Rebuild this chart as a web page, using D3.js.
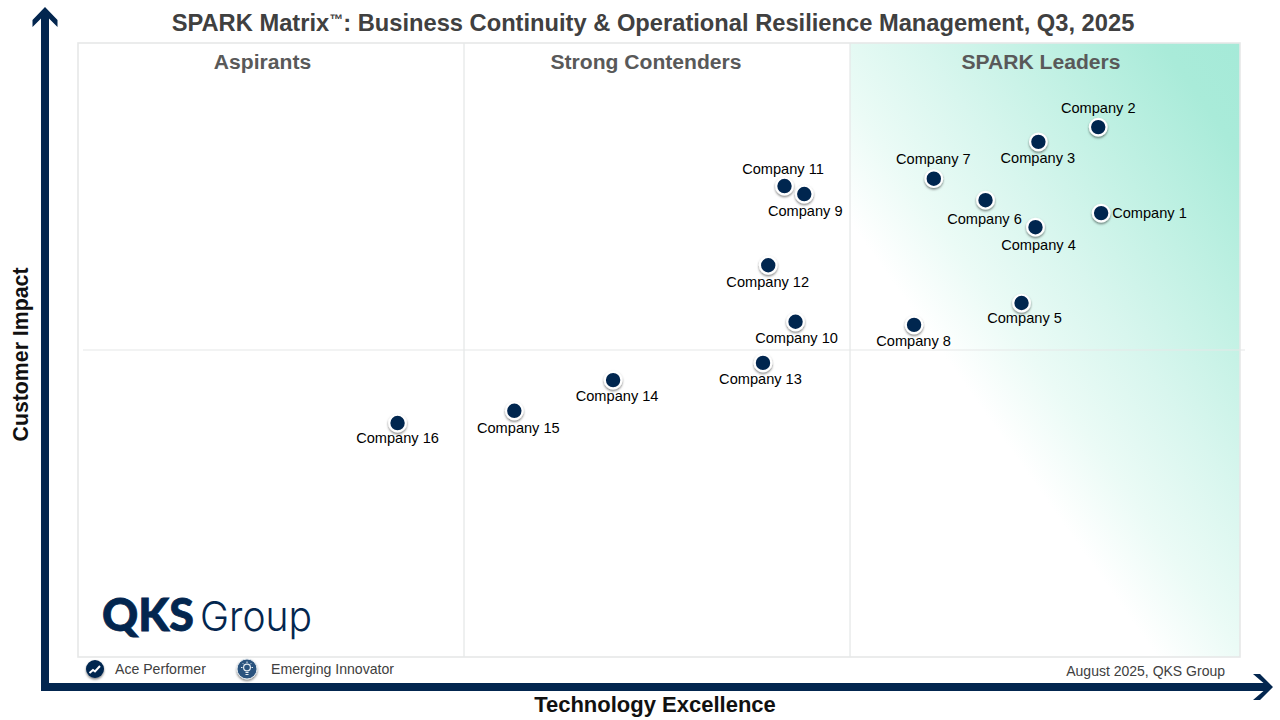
<!DOCTYPE html>
<html>
<head>
<meta charset="UTF-8">
<title>SPARK Matrix</title>
<script src="https://d3js.org/d3.v7.min.js"></script>
<style>
  html, body { margin: 0; padding: 0; background: #fff; }
  svg { display: block; font-family: "Liberation Sans", Arial, sans-serif; }
</style>
</head>
<body>
<div id="chart"></div>
<script>
// data (0-100 on both axes)
var companies = ["Company 1","Company 2","Company 3","Company 4","Company 5","Company 6","Company 7","Company 8",
                 "Company 9","Company 10","Company 11","Company 12","Company 13","Company 14","Company 15","Company 16"];
var techExcellence = [88.05,87.8,82.65,82.4,81.2,78.1,73.65,71.95,62.5,61.75,60.8,59.4,58.95,46.05,37.55,27.5];
var customerImpact = [72.3,86.3,83.9,70.0,57.65,74.4,77.9,54.1,75.4,54.6,76.7,63.8,47.9,45.1,40.1,38.1];
var quadrants = ["Aspirants","Strong Contenders","SPARK Leaders"];
var quadrantEdges = [0,33.22,66.44,100];
var legendItems = ["Ace Performer","Emerging Innovator"];

var width = 1280, height = 720;
var plot = {left: 78, right: 1240, top: 43, bottom: 657};
var navy = "#03264f", frame = "#e6e8e8";

var x = d3.scaleLinear().domain([0,100]).range([plot.left, plot.right]);
var y = d3.scaleLinear().domain([0,100]).range([plot.bottom, plot.top]);

// label offset from the point: dx, dy of baseline, anchor
var labelPos = [[11,5,"start"],[0,-14,"middle"],[-0.5,21,"middle"],[3,23,"middle"],[3,20,"middle"],[-1,24,"middle"],[-0.5,-15,"middle"],[-0.5,21,"middle"],
                [1,22,"middle"],[1,21,"middle"],[-1.5,-12,"middle"],[-0.5,22,"middle"],[-2.5,21,"middle"],[4,21,"middle"],[4,22,"middle"],[0,20,"middle"]];
var quadLabelShift = [-8.5,-11,-4];

var svg = d3.select("#chart").append("svg").attr("width",width).attr("height",height);
var defs = svg.append("defs");

// leaders background: straight diagonal fade, white at lower left
var grad = defs.append("linearGradient").attr("id","leaders").attr("gradientUnits","userSpaceOnUse")
  .attr("x1",940).attr("y1",350).attr("x2",1284).attr("y2",107);
[[0,"#ffffff"],[0.17,"#ebfbf6"],[0.38,"#d8f6ee"],[0.6,"#c2f1e4"],[0.85,"#a9ebd9"],[1,"#a5ead8"]].forEach(function(s){
  grad.append("stop").attr("offset",s[0]).attr("stop-color",s[1]);
});

var shadow = defs.append("filter").attr("id","dotShadow").attr("x","-50%").attr("y","-50%").attr("width","200%").attr("height","200%");
shadow.append("feDropShadow").attr("dx",0).attr("dy",1.5).attr("stdDeviation",1.3).attr("flood-color","#000").attr("flood-opacity",0.5);

// plot frame and quadrants
svg.append("rect").attr("x",x(quadrantEdges[2])).attr("y",plot.top)
  .attr("width",x(quadrantEdges[3])-x(quadrantEdges[2])).attr("height",plot.bottom-plot.top).attr("fill","url(#leaders)");
svg.append("rect").attr("x",plot.left).attr("y",plot.top).attr("width",plot.right-plot.left).attr("height",plot.bottom-plot.top)
  .attr("fill","none").attr("stroke",frame).attr("stroke-width",1.6);
svg.selectAll("line.div").data(quadrantEdges.slice(1,3)).enter().append("line").attr("class","div")
  .attr("x1",function(d){return x(d)}).attr("x2",function(d){return x(d)})
  .attr("y1",plot.top).attr("y2",plot.bottom).attr("stroke",frame).attr("stroke-width",1.3);
svg.append("line").attr("x1",83).attr("x2",1245).attr("y1",y(50)).attr("y2",y(50)).attr("stroke",frame).attr("stroke-width",1.2);

// title
var title = svg.append("text").attr("x",653).attr("y",31).attr("text-anchor","middle")
  .attr("font-size",23.7).attr("font-weight","bold").attr("fill","#404040");
title.append("tspan").text("SPARK Matrix");
title.append("tspan").text("™").attr("font-size",14).attr("dy",-7);
title.append("tspan").text(": Business Continuity & Operational Resilience Management, Q3, 2025").attr("dy",7);

svg.selectAll("text.quad").data(quadrants).enter().append("text").attr("class","quad")
  .attr("x",function(d,i){return (x(quadrantEdges[i])+x(quadrantEdges[i+1]))/2+quadLabelShift[i]}).attr("y",69).attr("text-anchor","middle")
  .attr("font-size",21.1).attr("font-weight","bold").attr("fill","#595959").text(function(d){return d});

// axes arrows
svg.append("path").attr("fill",navy)
  .attr("d","M45,7L57.5,20V27L49,18.5V683H1263.5L1253,674H1260L1273,687L1260,700H1253L1263.5,691H41V18.5L32.5,27V20Z");

svg.append("text").attr("x",655).attr("y",712).attr("text-anchor","middle").attr("font-size",22).attr("font-weight","bold").attr("fill","#111").text("Technology Excellence");
svg.append("text").attr("transform","translate(28,354.5) rotate(-90)").attr("text-anchor","middle").attr("font-size",21.3).attr("font-weight","bold").attr("fill","#111").text("Customer Impact");

// points
var pts = svg.append("g").selectAll("g").data(companies).enter().append("g");
pts.append("circle").attr("cx",function(d,i){return x(techExcellence[i])}).attr("cy",function(d,i){return y(customerImpact[i])})
  .attr("r",8.3).attr("fill",navy).attr("stroke","#fff").attr("stroke-width",2.2).attr("filter","url(#dotShadow)");
pts.append("text").attr("x",function(d,i){return x(techExcellence[i])+labelPos[i][0]}).attr("y",function(d,i){return y(customerImpact[i])+labelPos[i][1]})
  .attr("text-anchor",function(d,i){return labelPos[i][2]}).attr("font-size",14.6).attr("fill","#000").text(function(d){return d});

// logo
svg.append("text").attr("x",102).attr("y",631).attr("font-size",45).style("font-family","Lato").style("font-weight",900)
  .attr("fill",navy).attr("stroke",navy).attr("stroke-width",0.8).attr("textLength",92).attr("lengthAdjust","spacingAndGlyphs").text("QKS");
svg.append("text").attr("x",200).attr("y",631).attr("font-size",41).style("font-family","Inter").style("font-weight",300).attr("fill",navy).attr("textLength",112).attr("lengthAdjust","spacingAndGlyphs").text("Group");

// legend
var legendX = [95,247], legendTextX = [115,271];
svg.append("circle").attr("cx",legendX[0]).attr("cy",669).attr("r",9).attr("fill",navy).attr("filter","url(#dotShadow)");
svg.append("path").attr("d","M89.5,673l3.5,-3l2,1.5l5,-5.5").attr("fill","none").attr("stroke","#fff").attr("stroke-width",2);
svg.append("circle").attr("cx",legendX[1]).attr("cy",669).attr("r",10).attr("fill","#2a527e").attr("stroke","#dfe6ec").attr("stroke-width",1).attr("filter","url(#dotShadow)");
svg.append("circle").attr("cx",legendX[1]).attr("cy",667.5).attr("r",3.4).attr("fill","none").attr("stroke","#e6edf3").attr("stroke-width",1.2);
svg.append("path").attr("d","M245.5,672.5h3M245.5,674.5h3M247,661.5v1.5M241,667.5h1.5M251.5,667.5h1.5M242.8,663.3l1,1M251.2,663.3l-1,1")
  .attr("stroke","#e6edf3").attr("stroke-width",1).attr("fill","none");
svg.selectAll("text.leg").data(legendItems).enter().append("text").attr("class","leg")
  .attr("x",function(d,i){return legendTextX[i]}).attr("y",674).attr("font-size",14.1).attr("fill","#404040").text(function(d){return d});

svg.append("text").attr("x",1225).attr("y",676).attr("text-anchor","end").attr("font-size",14).attr("fill","#404040").text("August 2025, QKS Group");
</script>
</body>
</html>
